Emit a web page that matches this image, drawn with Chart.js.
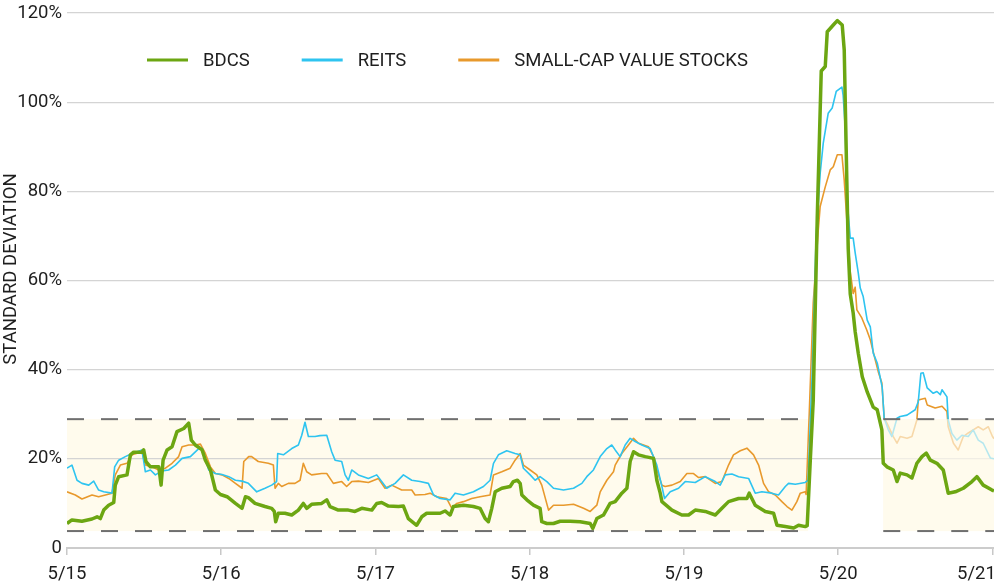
<!DOCTYPE html>
<html>
<head>
<meta charset="utf-8">
<script src="https://cdn.jsdelivr.net/npm/chart.js@4.4.0/dist/chart.umd.min.js"></script>
<style>
  html, body { margin: 0; padding: 0; background: #fff; }
</style>
</head>
<body>
<canvas id="volChart" width="994" height="587"></canvas>
<script>
// x values are years as 15.xx = 2015 etc, y values are % std dev
const bdcsDates = [15.000,15.032,15.097,15.162,15.195,15.216,15.238,15.270,15.303,15.313,15.335,15.389,15.411,15.432,15.486,15.497,15.512,15.541,15.595,15.610,15.623,15.649,15.681,15.713,15.757,15.789,15.806,15.832,15.876,15.897,15.930,15.962,15.995,16.038,16.092,16.135,16.157,16.176,16.219,16.284,16.327,16.344,16.353,16.370,16.413,16.457,16.500,16.532,16.554,16.586,16.651,16.684,16.705,16.759,16.824,16.867,16.911,16.976,17.008,17.040,17.084,17.149,17.181,17.213,17.267,17.300,17.332,17.386,17.419,17.451,17.484,17.505,17.570,17.635,17.678,17.711,17.732,17.754,17.776,17.819,17.873,17.894,17.920,17.938,17.949,17.981,18.024,18.067,18.078,18.111,18.154,18.197,18.262,18.327,18.392,18.409,18.435,18.478,18.521,18.554,18.597,18.630,18.651,18.673,18.705,18.749,18.803,18.824,18.846,18.857,18.922,18.986,19.030,19.073,19.138,19.203,19.246,19.289,19.354,19.408,19.423,19.462,19.527,19.581,19.603,19.657,19.711,19.743,19.786,19.799,19.819,19.838,19.864,19.890,19.916,19.929,19.968,19.994,20.026,20.039,20.056,20.065,20.078,20.097,20.110,20.130,20.156,20.188,20.227,20.253,20.283,20.292,20.316,20.357,20.381,20.402,20.446,20.478,20.510,20.543,20.571,20.597,20.640,20.681,20.713,20.759,20.811,20.867,20.899,20.940,20.997,21.010];
const bdcsValues = [5.5,6.3,6.0,6.5,7.0,6.6,8.5,9.6,10.2,14.1,16.0,16.4,20.9,21.5,21.5,22.0,19.4,18.2,18.2,14.1,19.7,22.0,22.7,26.1,26.8,28.0,24.2,23.1,22.0,19.7,17.5,13.0,12.0,11.5,10.0,8.9,11.5,11.3,10.0,9.3,8.9,8.2,5.9,7.8,7.8,7.4,8.5,10.0,8.9,9.8,10.0,10.8,9.3,8.5,8.5,8.2,8.9,8.5,10.0,10.2,9.4,9.3,9.4,6.6,5.1,7.0,7.8,7.8,7.8,8.3,7.4,9.3,9.6,9.3,8.9,6.6,5.9,8.9,12.6,13.4,13.8,14.9,15.2,14.5,11.9,10.8,9.6,8.9,5.9,5.5,5.5,6.0,6.0,5.9,5.5,4.4,6.6,7.4,10.0,10.4,12.3,13.4,19.4,21.6,20.9,20.5,20.1,15.2,12.3,10.4,8.5,7.4,7.4,8.5,8.2,7.4,8.9,10.4,11.1,11.1,12.3,9.6,8.2,7.8,5.1,4.8,4.5,5.1,4.8,5.0,19.7,33.0,74.0,107.0,108.0,115.8,117.3,118.3,117.3,111.7,82.0,67.0,57.0,52.7,48.5,43.7,38.4,35.0,31.6,31.0,26.5,19.0,18.2,17.5,14.9,16.8,16.4,15.7,19.0,20.5,21.3,19.7,19.0,17.5,12.3,12.6,13.4,14.9,16.0,14.1,13.0,12.8];

const reitsDates = [15.000,15.032,15.065,15.097,15.141,15.173,15.205,15.238,15.292,15.309,15.335,15.378,15.422,15.486,15.508,15.541,15.573,15.616,15.659,15.703,15.746,15.800,15.854,15.876,15.919,15.962,16.005,16.049,16.092,16.135,16.176,16.230,16.284,16.327,16.359,16.366,16.403,16.457,16.500,16.522,16.543,16.565,16.608,16.640,16.684,16.716,16.738,16.781,16.803,16.824,16.846,16.889,16.954,17.008,17.040,17.073,17.127,17.181,17.235,17.289,17.343,17.376,17.419,17.484,17.516,17.570,17.635,17.700,17.743,17.765,17.797,17.851,17.905,17.938,17.959,18.003,18.035,18.067,18.111,18.154,18.219,18.284,18.338,18.370,18.413,18.457,18.500,18.532,18.554,18.586,18.619,18.651,18.684,18.727,18.781,18.824,18.857,18.874,18.911,18.965,19.008,19.073,19.138,19.203,19.235,19.267,19.311,19.354,19.419,19.462,19.505,19.570,19.613,19.657,19.678,19.722,19.786,19.805,19.832,19.857,19.883,19.903,19.935,19.961,19.987,20.024,20.032,20.045,20.058,20.078,20.097,20.110,20.130,20.143,20.162,20.188,20.208,20.227,20.253,20.285,20.298,20.325,20.348,20.381,20.402,20.446,20.499,20.519,20.536,20.551,20.577,20.616,20.640,20.662,20.673,20.705,20.713,20.737,20.769,20.802,20.843,20.875,20.908,20.940,20.986,21.010];
const reitsValues = [17.9,18.6,15.2,14.5,14.1,15.0,13.0,12.6,12.3,18.2,19.7,20.5,21.2,22.0,17.1,17.5,16.4,17.3,17.5,18.6,20.1,20.5,22.3,22.3,17.5,16.7,16.5,16.0,15.2,15.0,14.5,12.6,13.4,14.1,14.9,21.2,20.9,22.3,23.1,25.3,28.2,25.0,25.0,25.2,25.3,21.6,19.7,19.4,16.4,15.2,17.5,16.4,15.6,16.4,14.9,13.4,14.5,16.4,15.2,14.9,14.5,11.9,11.1,10.8,12.3,11.9,12.6,13.8,15.2,19.0,20.9,21.8,21.2,20.9,17.9,16.4,15.2,16.0,14.9,13.4,13.0,13.4,14.5,16.0,17.5,20.5,22.3,23.1,22.0,20.5,23.1,24.6,23.9,23.1,22.3,18.6,13.8,11.1,12.6,13.4,14.9,14.7,16.0,14.9,14.1,16.4,16.6,16.0,15.6,12.3,12.6,12.3,11.9,13.8,14.5,14.3,14.7,15.2,40.0,70.0,84.0,90.8,97.5,98.7,102.4,103.4,101.5,94.5,78.0,69.5,69.5,66.2,61.7,58.3,56.4,51.1,49.6,43.7,41.5,36.1,29.1,26.5,25.0,29.1,29.5,29.8,31.0,32.8,39.2,39.3,35.9,34.7,35.1,34.4,35.5,33.9,28.7,25.7,24.2,25.3,25.0,26.5,24.2,23.5,20.2,20.0];

const scvDates = [15.000,15.054,15.097,15.162,15.205,15.249,15.292,15.313,15.346,15.389,15.422,15.486,15.508,15.551,15.595,15.638,15.681,15.724,15.746,15.789,15.832,15.865,15.897,15.930,15.962,16.005,16.049,16.092,16.135,16.146,16.178,16.197,16.240,16.305,16.338,16.349,16.370,16.392,16.435,16.478,16.511,16.532,16.554,16.586,16.651,16.684,16.727,16.781,16.813,16.846,16.889,16.954,17.019,17.062,17.105,17.170,17.235,17.257,17.321,17.354,17.397,17.462,17.495,17.527,17.570,17.624,17.678,17.743,17.765,17.819,17.873,17.905,17.938,17.959,18.003,18.046,18.078,18.122,18.154,18.219,18.284,18.349,18.392,18.435,18.457,18.500,18.543,18.554,18.597,18.640,18.673,18.705,18.770,18.803,18.835,18.857,18.878,18.922,18.976,19.019,19.062,19.095,19.138,19.203,19.246,19.289,19.321,19.365,19.408,19.451,19.484,19.516,19.549,19.592,19.635,19.668,19.700,19.732,19.754,19.786,19.792,19.812,19.838,19.870,19.883,19.916,19.948,19.968,19.994,20.024,20.039,20.056,20.078,20.097,20.110,20.121,20.153,20.185,20.208,20.240,20.260,20.283,20.298,20.316,20.357,20.381,20.402,20.446,20.478,20.510,20.519,20.564,20.577,20.629,20.673,20.705,20.713,20.747,20.778,20.811,20.843,20.875,20.908,20.940,20.973,21.000,21.010];
const scvValues = [12.6,11.9,11.0,11.9,11.5,11.9,12.3,16.4,18.6,19.0,20.9,21.6,18.6,18.2,17.5,17.9,19.0,20.5,22.7,23.1,23.1,23.3,21.2,18.2,16.7,16.4,15.6,14.5,13.4,19.4,20.5,20.5,19.4,19.0,18.6,13.4,14.5,13.8,14.5,14.5,15.2,19.0,17.1,16.4,16.7,16.7,14.5,14.9,13.8,14.9,15.0,14.7,15.6,13.4,14.1,13.0,13.0,11.9,12.0,12.3,11.5,11.1,8.9,10.0,10.4,11.1,11.5,11.9,16.4,17.1,17.9,19.7,21.2,18.6,17.5,16.4,14.1,8.5,9.6,9.6,9.8,8.9,8.2,9.6,12.6,15.2,17.1,18.6,21.2,23.1,24.6,23.5,22.7,20.5,16.4,14.1,13.8,14.1,14.9,16.7,16.7,15.8,16.0,14.5,14.9,18.6,20.9,21.8,22.4,20.9,18.6,14.5,12.6,11.9,10.4,9.3,8.5,10.4,12.3,12.6,12.0,30.0,55.0,71.0,76.6,81.0,84.8,85.5,88.2,88.2,82.5,73.6,62.0,57.1,58.5,53.4,51.6,48.9,46.7,42.2,39.5,37.0,29.1,28.0,25.0,23.5,25.0,24.6,25.0,28.7,33.2,33.6,32.1,31.4,31.8,30.6,27.2,23.5,22.0,25.0,25.8,26.5,27.2,26.5,27.2,25.0,24.5];

const seriesNames = ['BDCS', 'REITS', 'SMALL-CAP VALUE STOCKS'];
const seriesColors = ['#6ca612', '#2ec4f0', '#e8992c'];

// "normal" range band, in % and in years
const bandRange = [3.8, 28.9];
const bandSpans = [[15.0, 19.805], [20.292, 21.01]];

const cream = '#fffbed';

function toPoints(dates, values) {
  return dates.map((d, i) => ({ x: d, y: values[i] }));
}

function bandBox(chart, span) {
  const { chartArea, scales: { x, y } } = chart;
  const x0 = Math.max(chartArea.left, x.getPixelForValue(span[0]));
  const x1 = Math.min(chartArea.right, x.getPixelForValue(span[1]));
  const yTop = y.getPixelForValue(bandRange[1]);
  const yBot = y.getPixelForValue(bandRange[0]);
  return { x0, x1, yTop, yBot };
}

const bandPlugin = {
  id: 'normalBand',
  beforeDraw(chart) {
    const ctx = chart.ctx;
    ctx.save();
    ctx.fillStyle = cream;
    bandSpans.forEach(span => {
      const b = bandBox(chart, span);
      ctx.fillRect(b.x0, b.yTop, b.x1 - b.x0, b.yBot - b.yTop);
    });
    ctx.restore();
  },
  beforeDatasetDraw(chart, args) {
    // BDCS is drawn last; fade the other lines inside the right band first
    if (args.index !== 0) return;
    const ctx = chart.ctx;
    ctx.save();
    const r = bandBox(chart, bandSpans[1]);
    ctx.fillStyle = 'rgba(255, 251, 237, 0.65)';
    ctx.fillRect(r.x0, r.yTop, r.x1 - r.x0, r.yBot - r.yTop);
    ctx.strokeStyle = '#6f6f6f';
    ctx.lineWidth = 2;
    ctx.setLineDash([17, 17]);
    bandSpans.forEach(span => {
      const b = bandBox(chart, span);
      [b.yTop, b.yBot].forEach(yy => {
        ctx.beginPath();
        ctx.moveTo(b.x0, yy);
        ctx.lineTo(b.x1, yy);
        ctx.stroke();
      });
    });
    ctx.restore();
  }
};

const legendPlugin = {
  id: 'insideLegend',
  afterDraw(chart) {
    const ctx = chart.ctx;
    const area = chart.chartArea;
    let xPos = area.left + 80;
    const yPos = area.top + 47;
    ctx.save();
    ctx.font = '18.5px Roboto';
    ctx.textBaseline = 'middle';
    chart.data.datasets.forEach(ds => {
      ctx.strokeStyle = ds.borderColor;
      ctx.lineWidth = 3;
      ctx.beginPath();
      ctx.moveTo(xPos, yPos);
      ctx.lineTo(xPos + 41, yPos);
      ctx.stroke();
      xPos += 41 + 15;
      ctx.fillStyle = '#1e1e1e';
      ctx.fillText(ds.label, xPos, yPos + 1);
      xPos += ctx.measureText(ds.label).width + 52;
    });
    ctx.restore();
  }
};

Chart.defaults.font.family = 'Roboto';
Chart.defaults.font.size = 18.5;
Chart.defaults.color = '#1e1e1e';

const ctx = document.getElementById('volChart').getContext('2d');

new Chart(ctx, {
  type: 'line',
  data: {
    datasets: [
      { label: seriesNames[0], data: toPoints(bdcsDates, bdcsValues), borderColor: seriesColors[0], borderWidth: 3.5 },
      { label: seriesNames[1], data: toPoints(reitsDates, reitsValues), borderColor: seriesColors[1], borderWidth: 1.6 },
      { label: seriesNames[2], data: toPoints(scvDates, scvValues), borderColor: seriesColors[2], borderWidth: 1.6 }
    ]
  },
  options: {
    responsive: false,
    devicePixelRatio: 1,
    animation: false,
    elements: {
      point: { radius: 0 },
      line: { tension: 0, borderJoinStyle: 'round', fill: false }
    },
    layout: { padding: { top: 13, right: 0, bottom: 0, left: 0 } },
    scales: {
      x: {
        type: 'linear',
        min: 15,
        max: 21.01,
        grid: { drawOnChartArea: false, drawTicks: true, tickLength: 7, color: '#c8c8c8', lineWidth: 1.5 },
        border: { display: true, color: '#cccccc', width: 2 },
        ticks: {
          stepSize: 1,
          includeBounds: false,
          autoSkip: false,
          maxRotation: 0,
          padding: 8,
          callback: function(value) {
            // last label sits inside the right edge
            if (value === 21) return '5/21' + '\u00a0'.repeat(7);
            return '5/' + value;
          }
        },
        afterFit: function(scale) {
          scale.height = 39;
          scale.paddingLeft = 0;
          scale.paddingRight = 0;
        }
      },
      y: {
        min: 0,
        max: 120,
        grid: { color: '#d4d4d4', lineWidth: 1.2, drawTicks: false },
        border: { display: false },
        ticks: {
          stepSize: 20,
          padding: 5,
          callback: function(value) {
            return value === 0 ? '0' : value + '%';
          }
        },
        // leading spaces nudge the rotated title a little upward
        title: { display: true, text: '\u00a0'.repeat(5) + 'STANDARD DEVIATION', padding: 0 },
        afterFit: function(scale) {
          scale.width = 67;
          scale.paddingTop = 0;
          scale.paddingBottom = 0;
        }
      }
    },
    plugins: {
      legend: { display: false },
      tooltip: { enabled: false }
    }
  },
  plugins: [bandPlugin, legendPlugin]
});
</script>
</body>
</html>
